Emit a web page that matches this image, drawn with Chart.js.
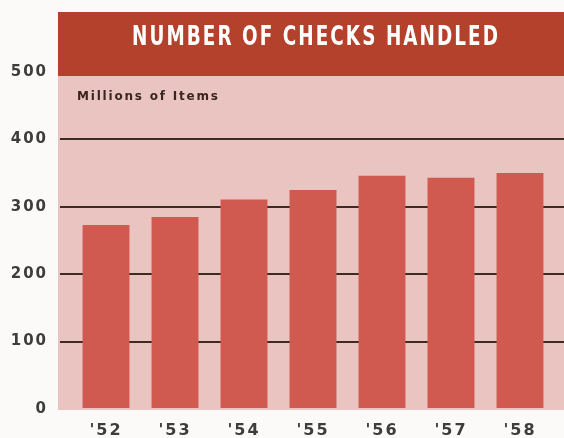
<!DOCTYPE html>
<html>
<head>
<meta charset="utf-8">
<script src="https://cdn.jsdelivr.net/npm/chart.js@4/dist/chart.umd.min.js"></script>
<style>
  html, body { margin: 0; padding: 0; background: #fbfaf9; }
  #wrap { width: 564px; height: 438px; position: relative; }
</style>
</head>
<body>
<div id="wrap"><canvas id="c"></canvas></div>
<script>
const titleText = 'NUMBER OF CHECKS HANDLED';
const unitLabel = 'Millions of Items';
const yearValues = [1952, 1953, 1954, 1955, 1956, 1957, 1958];
const yearLabels = ["'52", "'53", "'54", "'55", "'56", "'57", "'58"];
const checksHandled = [273, 285, 311, 325, 346, 343, 350];
const yTickValues = [0, 100, 200, 300, 400, 500];

const COLORS = {
  header: '#b3412c',
  plotBg: '#e9c4c0',
  bar: '#d05a4f',
  grid: '#3e2a24',
  text: '#3d3d3d',
  unit: '#3a2520'
};

// Header band + condensed title, plot background, unit label
const decor = {
  id: 'decor',
  beforeDraw(chart) {
    const { ctx, chartArea } = chart;
    const bandTop = 12;
    const bandBottom = chartArea.top + 4;
    ctx.save();
    ctx.fillStyle = COLORS.plotBg;
    ctx.fillRect(chartArea.left - 2, chartArea.top, chartArea.right - chartArea.left + 2, chartArea.bottom - chartArea.top + 1);
    ctx.fillStyle = COLORS.header;
    ctx.fillRect(chartArea.left - 2, bandTop, chartArea.right - chartArea.left + 2, bandBottom - bandTop);
    // title text, horizontally condensed
    ctx.font = 'bold 27px "DejaVu Sans"';
    ctx.letterSpacing = '3px';
    ctx.fillStyle = '#ffffff';
    ctx.textAlign = 'center';
    ctx.textBaseline = 'alphabetic';
    const w = ctx.measureText(titleText).width;
    const sx = 368 / w;
    const cx = (chartArea.left + chartArea.right) / 2 + 4;
    ctx.translate(cx, bandTop + 33);
    ctx.scale(sx, 1);
    ctx.fillText(titleText, 0, 0);
    ctx.restore();
    ctx.letterSpacing = '2px';
  },
  beforeDatasetsDraw(chart) {
    const { ctx, chartArea } = chart;
    ctx.save();
    ctx.letterSpacing = '1.8px';
    ctx.fillStyle = COLORS.unit;
    ctx.font = 'bold 12px "DejaVu Sans"';
    ctx.textBaseline = 'middle';
    ctx.textAlign = 'left';
    ctx.fillText(unitLabel, chartArea.left + 17, chartArea.top + 25);
    ctx.restore();
  }
};

new Chart(document.getElementById('c'), {
  type: 'bar',
  data: {
    datasets: [{
      data: yearValues.map((x, i) => ({ x: x, y: checksHandled[i] })),
      backgroundColor: COLORS.bar,
      borderWidth: 0,
      barPercentage: 1,
      categoryPercentage: 0.68
    }]
  },
  options: {
    responsive: true,
    maintainAspectRatio: false,
    animation: false,
    layout: { padding: { top: 72, right: 0, left: 0, bottom: 0 } },
    plugins: {
      legend: { display: false },
      tooltip: { enabled: false },
      title: { display: false }
    },
    scales: {
      x: {
        type: 'linear',
        offset: false,
        min: 1951.333,
        max: 1958.638,
        afterBuildTicks: (s) => { s.ticks = yearValues.map(v => ({ value: v })); },
        afterFit: (s) => { s.height = 29; },
        grid: { display: false, drawTicks: false, offset: false },
        border: { display: false },
        ticks: {
          color: COLORS.text,
          font: { family: '"DejaVu Sans"', size: 16, weight: 'bold' },
          padding: 12,
          maxRotation: 0,
          autoSkip: false,
          callback: (v) => yearLabels[yearValues.indexOf(v)]
        }
      },
      y: {
        min: 0,
        max: 500,
        afterBuildTicks: (s) => { s.ticks = yTickValues.map(v => ({ value: v })); },
        afterFit: (s) => { s.width = 60; },
        grid: {
          drawTicks: false,
          lineWidth: 2,
          color: (c) => (c.tick && (c.tick.value === 0 || c.tick.value === 500)) ? 'rgba(0,0,0,0)' : COLORS.grid
        },
        border: { display: false },
        ticks: {
          color: COLORS.text,
          font: { family: '"DejaVu Sans"', size: 15, weight: 'bold' },
          padding: 12
        }
      }
    }
  },
  plugins: [decor]
});
</script>
</body>
</html>
